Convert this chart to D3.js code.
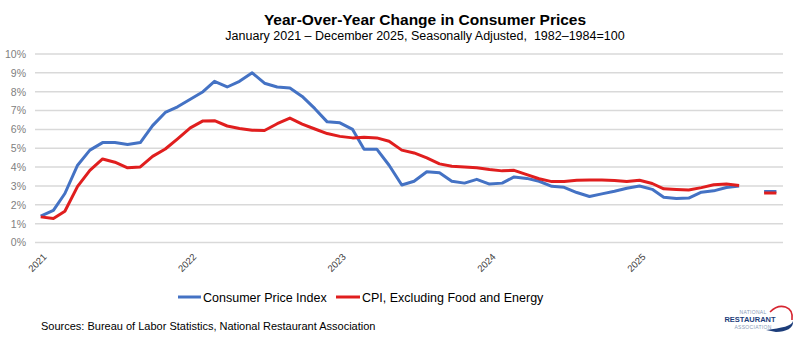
<!DOCTYPE html>
<html>
<head>
<meta charset="utf-8">
<script src="https://cdn.jsdelivr.net/npm/d3@7"></script>
<style>
  body { margin: 0; background: #fff; }
  svg { display: block; font-family: "Liberation Sans", Arial, sans-serif; }
</style>
</head>
<body>
<div id="chart"></div>
<script>
// Monthly YoY % change, Jan 2021 – Dec 2025 (Oct 2025 not published)
const months = d3.timeMonths(new Date(2021, 0, 1), new Date(2026, 0, 1));
const cpi = [
  1.4, 1.7, 2.6, 4.1, 4.9, 5.3, 5.3, 5.2, 5.3, 6.2, 6.9, 7.2,
  7.6, 8.0, 8.55, 8.25, 8.55, 9.0, 8.45, 8.25, 8.2, 7.75, 7.1, 6.4,
  6.35, 6.0, 4.95, 4.95, 4.1, 3.05, 3.25, 3.75, 3.7, 3.25, 3.15, 3.35,
  3.1, 3.15, 3.48, 3.4, 3.25, 2.98, 2.93, 2.65, 2.44, 2.58, 2.72, 2.88,
  3.0, 2.82, 2.4, 2.33, 2.36, 2.67, 2.74, 2.92, 3.0, null, 2.7, 2.7
];
const core = [
  1.36, 1.27, 1.66, 2.98, 3.83, 4.43, 4.26, 3.96, 4.01, 4.57, 4.96, 5.5,
  6.08, 6.45, 6.46, 6.18, 6.05, 5.96, 5.94, 6.3, 6.6, 6.28, 6.02, 5.78,
  5.63, 5.55, 5.58, 5.55, 5.37, 4.9, 4.75, 4.49, 4.17, 4.04, 4.01, 3.96,
  3.87, 3.8, 3.83, 3.6, 3.38, 3.23, 3.23, 3.3, 3.32, 3.32, 3.29, 3.23,
  3.3, 3.13, 2.85, 2.81, 2.78, 2.91, 3.06, 3.1, 3.02, null, 2.63, 2.63
];
const yTicks = [0, 1, 2, 3, 4, 5, 6, 7, 8, 9, 10];
const yearTicks = [2021, 2022, 2023, 2024, 2025];
const seriesNames = ["Consumer Price Index", "CPI, Excluding Food and Energy"];
const colors = ["#4472c4", "#e01e1e"];

const width = 798, height = 345;
const svg = d3.select("#chart").append("svg")
    .attr("width", width)
    .attr("height", height);

// Title
svg.append("text")
    .attr("x", 425).attr("y", 25)
    .attr("text-anchor", "middle")
    .attr("font-size", 15.5).attr("font-weight", "bold").attr("fill", "#000")
    .text("Year-Over-Year Change in Consumer Prices");
svg.append("text")
    .attr("x", 425).attr("y", 40)
    .attr("text-anchor", "middle")
    .attr("font-size", 12.5).attr("fill", "#000")
    .text("January 2021 \u2013 December 2025, Seasonally Adjusted, \u00a01982\u20131984=100");

// Scales
const x = d3.scaleTime()
    .domain([months[0], months[months.length - 1]])
    .range([40.7, 776.4]);
const y = d3.scaleLinear()
    .domain([0, 10])
    .range([242.5, 54]);

// Gridlines
svg.append("g")
    .selectAll("line")
    .data(yTicks)
    .join("line")
    .attr("x1", 35).attr("x2", 783)
    .attr("y1", d => y(d)).attr("y2", d => y(d))
    .attr("stroke", "#d9d9d9")
    .attr("stroke-width", 1.5);

// Y axis labels
const yAxis = svg.append("g")
    .attr("transform", "translate(30,0)")
    .call(d3.axisLeft(y).tickValues(yTicks).tickFormat(d => d + "%").tickSize(0).tickPadding(4));
yAxis.select(".domain").remove();
yAxis.selectAll("text")
    .attr("font-family", "Liberation Sans, Arial, sans-serif")
    .attr("font-size", 10.5)
    .attr("fill", "#808080");

// X axis labels (January of each year)
const xAxis = svg.append("g")
    .attr("transform", "translate(0,242.5)")
    .call(d3.axisBottom(x)
        .tickValues(yearTicks.map(yr => new Date(yr, 0, 1)))
        .tickFormat(d3.timeFormat("%Y"))
        .tickSize(0));
xAxis.select(".domain").remove();
xAxis.selectAll("text")
    .attr("font-family", "Liberation Sans, Arial, sans-serif")
    .attr("font-size", 9.5)
    .attr("fill", "#404040")
    .attr("text-anchor", "end")
    .attr("dy", 0)
    .attr("transform", "translate(4,13) rotate(-45)");

// Lines
const line = d3.line()
    .defined(d => d[1] != null)
    .x(d => x(d[0]))
    .y(d => y(d[1]));

[cpi, core].forEach((vals, i) => {
    svg.append("path")
        .datum(months.map((m, j) => [m, vals[j]]))
        .attr("fill", "none")
        .attr("stroke", colors[i])
        .attr("stroke-width", 3)
        .attr("stroke-linejoin", "round")
        .attr("d", line);
});

// Legend
const legendPos = [{ x: 178, w: 23 }, { x: 336, w: 24 }];
seriesNames.forEach((name, i) => {
    const g = svg.append("g").attr("transform", `translate(${legendPos[i].x},297)`);
    g.append("line")
        .attr("x1", 0).attr("x2", legendPos[i].w)
        .attr("stroke", colors[i]).attr("stroke-width", 3);
    g.append("text")
        .attr("x", legendPos[i].w + 2).attr("y", 4.5)
        .attr("font-size", 12.5).attr("fill", "#000")
        .text(name);
});

// Sources
svg.append("text")
    .attr("x", 41).attr("y", 330)
    .attr("font-size", 11).attr("fill", "#000")
    .text("Sources: Bureau of Labor Statistics, National Restaurant Association");

// Logo
const logo = svg.append("g").attr("transform", "translate(718,304)");
logo.append("path")
    .attr("d", "M52,8 C62,-2 76,2 74,16")
    .attr("fill", "none").attr("stroke", "#d62631").attr("stroke-width", 1.6);
logo.append("path")
    .attr("d", "M48,26 C64,24 74,22 75,17 C76,24 68,28 58,28 Z")
    .attr("fill", "#1c3d7a");
logo.append("text")
    .attr("x", 35).attr("y", 10)
    .attr("text-anchor", "middle")
    .attr("font-size", 5).attr("fill", "#8a9bb8").attr("letter-spacing", 0.3)
    .text("NATIONAL");
logo.append("text")
    .attr("x", 32).attr("y", 18)
    .attr("text-anchor", "middle")
    .attr("font-size", 7.5).attr("font-weight", "bold").attr("fill", "#1c3d7a")
    .text("RESTAURANT");
logo.append("text")
    .attr("x", 35).attr("y", 25)
    .attr("text-anchor", "middle")
    .attr("font-size", 5).attr("fill", "#8a9bb8").attr("letter-spacing", 0.3)
    .text("ASSOCIATION");
</script>
</body>
</html>
